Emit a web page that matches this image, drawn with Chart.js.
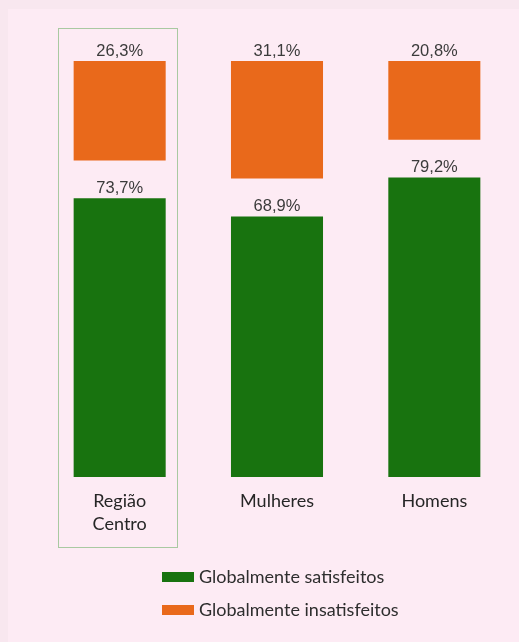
<!DOCTYPE html>
<html lang="pt">
<head>
<meta charset="utf-8">
<title>Satisfação global</title>
<script src="https://cdn.jsdelivr.net/npm/chart.js@4/dist/chart.umd.min.js"></script>
<style>
  html, body { margin: 0; padding: 0; }
  body { width: 519px; height: 642px; background: #f8e7ef; position: relative; overflow: hidden; }
  .panel { position: absolute; left: 8px; top: 9px; right: 0; bottom: 0; background: #fdebf4; }
  #chart { position: absolute; left: 0; top: 0; }
</style>
</head>
<body>
<div class="panel"></div>
<canvas id="chart" width="519" height="642"></canvas>
<script>
// categorias e percentagens
const categorias = [['Região', 'Centro'], 'Mulheres', 'Homens'];
const satisfeitos = [73.7, 68.9, 79.2];
const insatisfeitos = [26.3, 31.1, 20.8];
const legendas = ['Globalmente satisfeitos', 'Globalmente insatisfeitos'];

const VERDE = '#18730f';
const LARANJA = '#e9691b';
const GAP = 10; // espaço vazio entre os dois segmentos, em pontos percentuais

const fmt = v => v.toFixed(1).replace('.', ',') + '%';

// valores por cima de cada segmento
const rotulos = {
  id: 'rotulos',
  afterDatasetsDraw(chart) {
    const ctx = chart.ctx;
    ctx.save();
    ctx.font = '16.5px "Liberation Sans", Arial, sans-serif';
    ctx.fillStyle = '#3b3b3b';
    ctx.textAlign = 'center';
    ctx.textBaseline = 'alphabetic';
    chart.data.datasets.forEach((ds, di) => {
      if (ds.semRotulo) return;
      chart.getDatasetMeta(di).data.forEach((bar, i) => {
        ctx.fillText(fmt(ds.data[i]), bar.x, bar.y - 5);
      });
    });
    ctx.restore();
  }
};

// moldura verde à volta da Região Centro
const moldura = {
  id: 'moldura',
  afterDraw(chart) {
    const ctx = chart.ctx;
    const x0 = chart.scales.x.getPixelForValue(0);
    ctx.save();
    ctx.strokeStyle = '#a9c9a1';
    ctx.lineWidth = 1;
    ctx.strokeRect(Math.round(x0 - 62) + 0.5, 28.5, 119, 519);
    ctx.restore();
  }
};

// legenda em duas linhas, alinhada à esquerda
const legenda = {
  id: 'legenda',
  afterDraw(chart) {
    const ctx = chart.ctx;
    const itens = chart.data.datasets.filter(ds => !ds.semRotulo);
    ctx.save();
    ctx.font = '18px Lato, "Open Sans", sans-serif';
    ctx.textBaseline = 'middle';
    itens.forEach((ds, i) => {
      const y = 577 + i * 33;
      ctx.fillStyle = ds.backgroundColor;
      ctx.fillRect(162, y - 5, 32, 10);
      ctx.fillStyle = '#2e2e2e';
      ctx.fillText(ds.label, 199, y);
    });
    ctx.restore();
  }
};

new Chart(document.getElementById('chart'), {
  type: 'bar',
  data: {
    labels: categorias,
    datasets: [
      { label: legendas[0], data: satisfeitos, backgroundColor: VERDE },
      { label: '', data: categorias.map(() => GAP), backgroundColor: 'rgba(0,0,0,0)', semRotulo: true },
      { label: legendas[1], data: insatisfeitos, backgroundColor: LARANJA }
    ]
  },
  options: {
    responsive: false,
    animation: false,
    devicePixelRatio: 1,
    layout: { padding: { left: 41, right: 6, top: 61, bottom: 105 } },
    datasets: { bar: { categoryPercentage: 1, barPercentage: 0.585 } },
    plugins: { legend: { display: false }, tooltip: { enabled: false } },
    scales: {
      x: {
        stacked: true,
        grid: { display: false, drawTicks: false },
        border: { display: false },
        ticks: { color: '#262626', font: { family: 'Lato', size: 18, lineHeight: 1.3 }, padding: 12, maxRotation: 0 },
        afterFit(scale) { scale.height = 60; }
      },
      y: { stacked: true, display: false, min: 0, max: 100 + GAP }
    }
  },
  plugins: [rotulos, moldura, legenda]
});
</script>
</body>
</html>
